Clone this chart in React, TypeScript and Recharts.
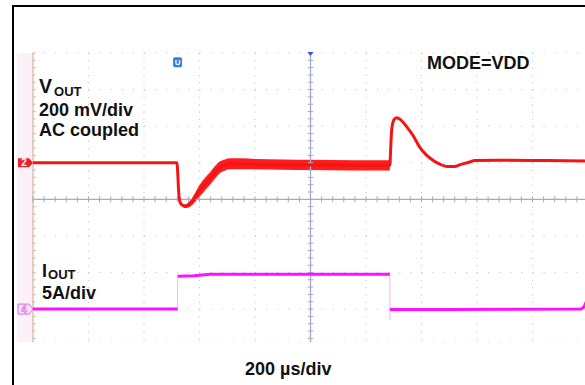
import React from 'react';
import {
  ComposedChart,
  Line,
  Area,
  XAxis,
  YAxis,
  CartesianGrid,
  ReferenceLine,
  ReferenceDot,
} from 'recharts';

// Time axis in µs (200 µs/div, 10 divisions), vertical axis in divisions
const xTicks = [-1000, -800, -600, -400, -200, 0, 200, 400, 600, 800, 1000];
const yTicks = [-3, -2, -1, 0, 1, 2, 3, 4];

// VOUT trace (centre of the trace), in divisions (200 mV/div)
const voutTime = [
  -1000, -700, -481, -479, -475, -470, -462, -452, -443, -434, -416, -398, -380, -362, -344, -326,
  -308, -290, -250, -200, -100, 0, 150, 286, 289, 292, 297, 303, 311, 320, 332, 347, 369, 394, 419,
  441, 466, 491, 520, 540, 574, 592, 680, 850, 1000,
];
const voutDiv = [
  1.0, 1.0, 1.0, 0.8, 0.2, -0.08, -0.16, -0.19, -0.17, -0.12, 0.05, 0.25, 0.42, 0.57, 0.74, 0.88,
  0.94, 0.97, 0.97, 0.96, 0.95, 0.94, 0.93, 0.93, 1.4, 1.85, 2.1, 2.2, 2.23, 2.2, 2.12, 1.98, 1.75,
  1.42, 1.2, 1.07, 0.96, 0.9, 0.9, 0.95, 1.02, 1.06, 1.07, 1.06, 1.05,
];

// Switching ripple envelope on VOUT after the load step
const rippleTime = [-470, -452, -434, -416, -398, -380, -362, -344, -326, -308, -290, -250, -200, -100, 0, 150, 286];
const rippleLow = [-0.1, -0.24, -0.2, -0.07, 0.09, 0.25, 0.4, 0.57, 0.72, 0.79, 0.82, 0.82, 0.82, 0.81, 0.8, 0.79, 0.79];
const rippleHigh = [-0.06, -0.14, -0.04, 0.17, 0.41, 0.59, 0.74, 0.91, 1.04, 1.09, 1.12, 1.12, 1.1, 1.09, 1.08, 1.07, 1.07];

// IOUT trace (5 A/div), in divisions
const ioutLowATime = [-1000, -700, -479];
const ioutLowADiv = [-3.0, -3.0, -3.0];
const ioutHighTime = [-479, -420, -362, 0, 286];
const ioutHighDiv = [-2.1, -2.09, -2.05, -2.05, -2.05];
const ioutLowBTime = [286, 500, 975, 985, 1000];
const ioutLowBDiv = [-3.01, -3.01, -3.0, -2.95, -2.7];
const ioutRiseTime = [-479, -479];
const ioutRiseDiv = [-3.0, -2.1];
const ioutFallTime = [286, 286];
const ioutFallDiv = [-2.05, -3.3];

const triggerTime = -479;

const voutData = voutTime.map((t, i) => ({ t, v: voutDiv[i] }));
const rippleData = rippleTime.map((t, i) => ({ t, band: [rippleLow[i], rippleHigh[i]] }));
const zipI = (ts: number[], vs: number[]) => ts.map((t, i) => ({ t, v: vs[i] }));
const ioutLowA = zipI(ioutLowATime, ioutLowADiv);
const ioutHigh = zipI(ioutHighTime, ioutHighDiv);
const ioutLowB = zipI(ioutLowBTime, ioutLowBDiv);
const ioutRise = zipI(ioutRiseTime, ioutRiseDiv);
const ioutFall = zipI(ioutFallTime, ioutFallDiv);

// minor graticule ticks (1/5 division)
const minorX: number[] = [];
for (let t = -1000; t <= 1000; t += 40) minorX.push(t);
const minorY: number[] = [];
for (let k = -19; k <= 20; k += 1) minorY.push(k * 0.2);

const AXIS_COLOR = '#a2aac4';
const EDGE_COLOR = '#d8bca4';
const FONT = '"Liberation Sans", Arial, Helvetica, sans-serif';

const Tag2 = (p: any) => {
  const { cx, cy } = p;
  const x0 = cx - 16;
  return (
    <g>
      <path
        d={`M${x0 + 1},${cy - 4.5} L${cx - 4},${cy - 4.5} L${cx},${cy} L${cx - 4},${cy + 4.5} L${x0 + 1},${cy + 4.5} Z`}
        fill="#e8202a"
      />
      <text x={x0 + 7} y={cy + 3.5} fontSize={10} fontWeight={700} fill="#fff" textAnchor="middle" fontFamily={FONT}>
        2
      </text>
    </g>
  );
};

const Tag4 = (p: any) => {
  const { cx, cy } = p;
  const x0 = cx - 16;
  return (
    <g>
      <path
        d={`M${x0 + 1},${cy - 5} L${cx - 4},${cy - 5} L${cx},${cy} L${cx - 4},${cy + 5} L${x0 + 1},${cy + 5} Z`}
        fill="#fbe0fb"
        stroke="#e070e0"
        strokeWidth={1}
      />
      <text x={x0 + 7} y={cy + 3.5} fontSize={10} fontWeight={700} fill="#f6c8f6" stroke="#d860d8" strokeWidth={0.5} textAnchor="middle" fontFamily={FONT}>
        4
      </text>
    </g>
  );
};

const TrigU = (p: any) => {
  const { cx, cy } = p;
  return (
    <g>
      <rect x={cx - 4.5} y={cy - 5} width={9} height={10} rx={2} fill="#2f7fe6" />
      <text x={cx} y={cy + 3.2} fontSize={8} fontWeight={700} fill="#fff" textAnchor="middle" fontFamily={FONT}>
        U
      </text>
    </g>
  );
};

const TopMark = (p: any) => {
  const { cx, cy } = p;
  return <path d={`M${cx - 3},${cy - 1} L${cx + 3},${cy - 1} L${cx},${cy + 3} Z`} fill="#2060e0" />;
};

export default function App() {
  return (
    <div
      style={{
        position: 'absolute',
        left: 0,
        top: 0,
        width: 585,
        height: 385,
        overflow: 'hidden',
        background: '#fff',
      }}
    >
      {/* frame */}
      <div
        style={{
          position: 'absolute',
          left: 12,
          top: 5,
          width: 600,
          height: 400,
          borderTop: '2px solid #000',
          borderLeft: '2px solid #000',
        }}
      />
      {/* channel marker strip */}
      <div style={{ position: 'absolute', left: 17, top: 53, width: 16, height: 289, background: '#fcf0f9' }} />
      <div style={{ position: 'absolute', left: 0, top: 0 }}>
        <ComposedChart width={590} height={342} margin={{ top: 53, right: 2, bottom: 0, left: 33 }}>
          <XAxis type="number" dataKey="t" domain={[-1000, 1000]} ticks={xTicks} hide allowDataOverflow />
          <YAxis type="number" domain={[-3.9, 4]} ticks={yTicks} hide allowDataOverflow />
          <CartesianGrid horizontal={false} stroke="#bdbdbd" strokeDasharray="1 6.32" />
          <CartesianGrid vertical={false} stroke="#bdbdbd" strokeDasharray="1 10.1" />
          <ReferenceLine y={0} stroke={AXIS_COLOR} strokeWidth={1.3} />
          <ReferenceLine x={0} stroke={AXIS_COLOR} strokeWidth={1.3} />
          <ReferenceLine x={-1000} stroke={EDGE_COLOR} strokeWidth={1.3} />
          {minorX.map((t) => (
            <ReferenceLine key={`hx${t}`} segment={[{ x: t, y: -0.08 }, { x: t, y: 0.08 }]} stroke={AXIS_COLOR} strokeWidth={1} />
          ))}
          {minorY.map((y) => (
            <ReferenceLine key={`vy${y}`} segment={[{ x: -10, y }, { x: 10, y }]} stroke={AXIS_COLOR} strokeWidth={1} />
          ))}
          {minorY.map((y) => (
            <ReferenceLine key={`ey${y}`} segment={[{ x: -1000, y }, { x: -990, y }]} stroke={EDGE_COLOR} strokeWidth={1} />
          ))}
          <Area
            data={rippleData}
            dataKey="band"
            type="monotone"
            stroke="none"
            fill="#ff1010"
            fillOpacity={0.95}
            isAnimationActive={false}
          />
          <Line data={voutData} dataKey="v" type="monotone" stroke="#f41414" strokeWidth={3} dot={false} isAnimationActive={false} />
          <Line data={ioutRise} dataKey="v" type="linear" stroke="#ffb0ff" strokeWidth={1} dot={false} isAnimationActive={false} />
          <Line data={ioutFall} dataKey="v" type="linear" stroke="#ffb0ff" strokeWidth={1} dot={false} isAnimationActive={false} />
          <Line data={ioutLowA} dataKey="v" type="linear" stroke="#ff10ff" strokeWidth={3} dot={false} isAnimationActive={false} />
          <Line data={ioutHigh} dataKey="v" type="linear" stroke="#ff10ff" strokeWidth={3} dot={false} isAnimationActive={false} />
          <Line data={ioutLowB} dataKey="v" type="linear" stroke="#ff10ff" strokeWidth={3} dot={false} isAnimationActive={false} />
          <ReferenceDot x={-1000} y={1.0} r={0} shape={Tag2} />
          <ReferenceDot x={-1000} y={-3.0} r={0} shape={Tag4} />
          <ReferenceDot x={triggerTime} y={3.75} r={0} shape={TrigU} />
          <ReferenceDot x={0} y={4} r={0} shape={TopMark} />
        </ComposedChart>
      </div>
      <svg width={585} height={385} style={{ position: 'absolute', left: 0, top: 0, pointerEvents: 'none' }}>
        <g fontFamily={FONT} fontWeight={700} fill="#111">
          <text x={39} y={92.5} fontSize={19.5}>
            V<tspan fontSize={13} dx={2} dy={3.5}>OUT</tspan>
          </text>
          <text x={39} y={115.5} fontSize={18}>200 mV/div</text>
          <text x={39} y={135.5} fontSize={18}>AC coupled</text>
          <text x={427} y={69} fontSize={18}>MODE=VDD</text>
          <text x={42} y={276.5} fontSize={18}>
            I<tspan fontSize={13} dx={1} dy={2.5}>OUT</tspan>
          </text>
          <text x={42} y={298.5} fontSize={18}>5A/div</text>
          <text x={245} y={375} fontSize={18}>200 µs/div</text>
        </g>
      </svg>
    </div>
  );
}
